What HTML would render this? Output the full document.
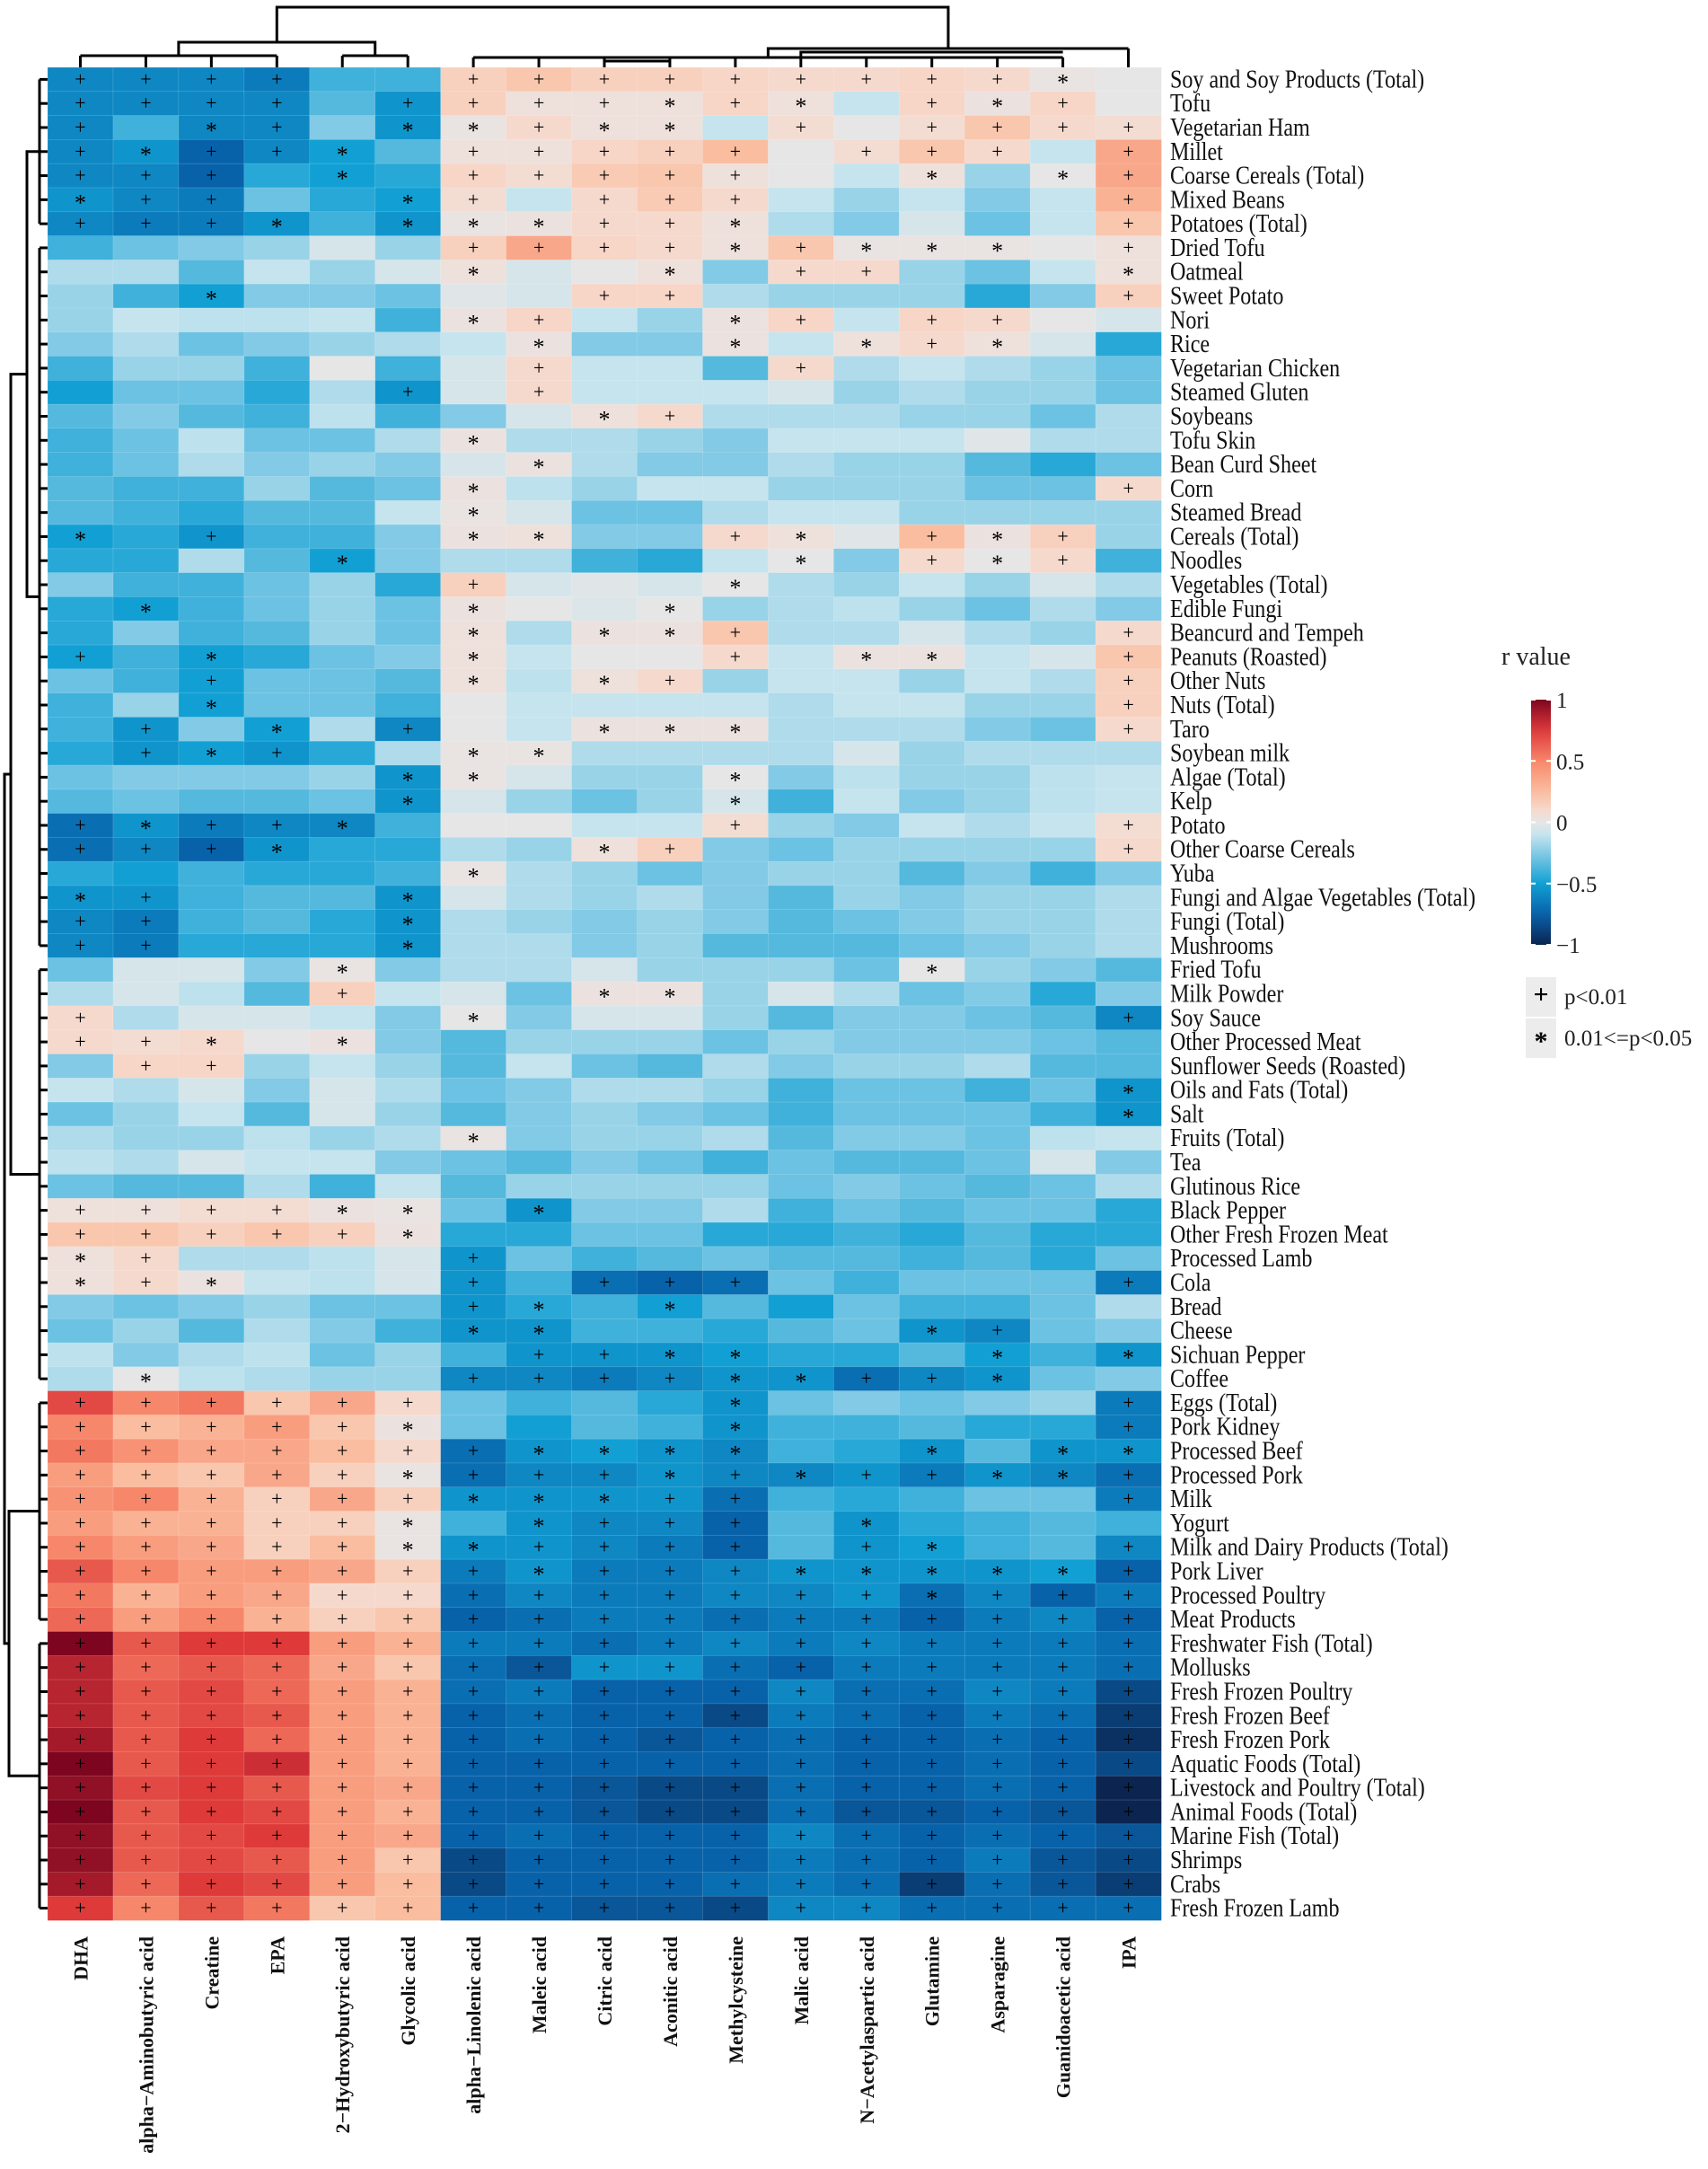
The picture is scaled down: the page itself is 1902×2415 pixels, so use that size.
<!DOCTYPE html>
<html><head><meta charset="utf-8">
<style>
html,body{margin:0;padding:0;background:#fff;}
svg{display:block;}
text{font-family:"Liberation Serif",serif;}
</style></head>
<body>
<svg id="chart" width="1902" height="2415" viewBox="0 0 1902 2415" xmlns="http://www.w3.org/2000/svg">
<g id="dendro" stroke="#000" stroke-width="3" fill="none"></g>
<g id="cells"></g>
<g id="marks"></g>
<g id="rowlabels" transform="scale(0.86,1)"></g>
<g id="collabels"></g>
<g id="legend"></g>
</svg>
<script>
const columns=["DHA","alpha\u2212Aminobutyric acid","Creatine","EPA","2\u2212Hydroxybutyric acid","Glycolic acid","alpha\u2212Linolenic acid","Maleic acid","Citric acid","Aconitic acid","Methylcysteine","Malic acid","N\u2212Acetylaspartic acid","Glutamine","Asparagine","Guanidoacetic acid","IPA"];
const rows=["Soy and Soy Products (Total)","Tofu","Vegetarian Ham","Millet","Coarse Cereals (Total)","Mixed Beans","Potatoes (Total)","Dried Tofu","Oatmeal","Sweet Potato","Nori","Rice","Vegetarian Chicken","Steamed Gluten","Soybeans","Tofu Skin","Bean Curd Sheet","Corn","Steamed Bread","Cereals (Total)","Noodles","Vegetables (Total)","Edible Fungi","Beancurd and Tempeh","Peanuts (Roasted)","Other Nuts","Nuts (Total)","Taro","Soybean milk","Algae (Total)","Kelp","Potato","Other Coarse Cereals","Yuba","Fungi and Algae Vegetables (Total)","Fungi (Total)","Mushrooms","Fried Tofu","Milk Powder","Soy Sauce","Other Processed Meat","Sunflower Seeds (Roasted)","Oils and Fats (Total)","Salt","Fruits (Total)","Tea","Glutinous Rice","Black Pepper","Other Fresh Frozen Meat","Processed Lamb","Cola","Bread","Cheese","Sichuan Pepper","Coffee","Eggs (Total)","Pork Kidney","Processed Beef","Processed Pork","Milk","Yogurt","Milk and Dairy Products (Total)","Pork Liver","Processed Poultry","Meat Products","Freshwater Fish (Total)","Mollusks","Fresh Frozen Poultry","Fresh Frozen Beef","Fresh Frozen Pork","Aquatic Foods (Total)","Livestock and Poultry (Total)","Animal Foods (Total)","Marine Fish (Total)","Shrimps","Crabs","Fresh Frozen Lamb"];
const rValues=[
[-0.6,-0.6,-0.6,-0.65,-0.4,-0.4,0.15,0.2,0.15,0.15,0.12,0.1,0.1,0.12,0.1,0.02,0.0],
[-0.6,-0.6,-0.6,-0.6,-0.35,-0.55,0.15,0.05,0.05,0.05,0.12,0.05,-0.1,0.12,0.03,0.12,0.0],
[-0.6,-0.4,-0.6,-0.6,-0.25,-0.55,0.02,0.1,0.05,0.05,-0.1,0.08,0.0,0.08,0.2,0.1,0.08],
[-0.6,-0.55,-0.75,-0.6,-0.5,-0.35,0.05,0.05,0.12,0.15,0.25,0.0,0.08,0.2,0.1,-0.1,0.35],
[-0.6,-0.6,-0.75,-0.45,-0.5,-0.45,0.12,0.08,0.18,0.2,0.05,0.0,-0.1,0.05,-0.2,0.0,0.35],
[-0.55,-0.6,-0.65,-0.3,-0.45,-0.5,0.08,-0.1,0.1,0.18,0.1,-0.1,-0.2,-0.1,-0.25,-0.1,0.3],
[-0.6,-0.65,-0.65,-0.55,-0.4,-0.55,0.02,0.03,0.1,0.1,0.05,-0.15,-0.25,-0.05,-0.3,-0.1,0.2],
[-0.4,-0.3,-0.25,-0.2,-0.05,-0.2,0.15,0.35,0.12,0.1,0.05,0.2,0.02,0.02,0.02,0.0,0.05],
[-0.15,-0.15,-0.35,-0.1,-0.2,-0.05,0.05,-0.05,0.0,0.05,-0.25,0.1,0.1,-0.2,-0.3,-0.1,0.05],
[-0.2,-0.4,-0.5,-0.25,-0.25,-0.3,-0.02,-0.05,0.12,0.12,-0.15,-0.2,-0.2,-0.2,-0.45,-0.25,0.15],
[-0.2,-0.1,-0.12,-0.12,-0.1,-0.4,0.03,0.12,-0.1,-0.2,0.03,0.12,-0.1,0.12,0.1,0.0,-0.05],
[-0.25,-0.15,-0.3,-0.25,-0.2,-0.15,-0.1,0.03,-0.25,-0.25,0.03,-0.1,0.05,0.1,0.05,-0.05,-0.45],
[-0.4,-0.2,-0.2,-0.4,0.0,-0.4,-0.05,0.1,-0.1,-0.1,-0.35,0.1,-0.15,-0.1,-0.15,-0.2,-0.3],
[-0.5,-0.3,-0.3,-0.45,-0.15,-0.55,-0.05,0.1,-0.1,-0.1,-0.1,-0.05,-0.2,-0.15,-0.2,-0.2,-0.3],
[-0.35,-0.25,-0.35,-0.4,-0.12,-0.4,-0.25,-0.05,0.05,0.1,-0.15,-0.15,-0.15,-0.2,-0.2,-0.3,-0.15],
[-0.4,-0.3,-0.12,-0.3,-0.3,-0.15,0.03,-0.15,-0.15,-0.2,-0.25,-0.1,-0.1,-0.1,-0.02,-0.15,-0.15],
[-0.4,-0.3,-0.15,-0.25,-0.2,-0.25,-0.05,0.03,-0.15,-0.25,-0.25,-0.15,-0.2,-0.2,-0.35,-0.45,-0.3],
[-0.35,-0.4,-0.4,-0.2,-0.35,-0.3,0.03,-0.12,-0.2,-0.1,-0.1,-0.2,-0.2,-0.2,-0.3,-0.3,0.1],
[-0.35,-0.4,-0.45,-0.35,-0.35,-0.1,0.02,-0.05,-0.3,-0.3,-0.15,-0.1,-0.1,-0.2,-0.2,-0.2,-0.2],
[-0.5,-0.45,-0.55,-0.4,-0.4,-0.25,0.03,0.05,-0.25,-0.25,0.1,0.05,-0.02,0.25,0.03,0.15,-0.2],
[-0.45,-0.45,-0.15,-0.35,-0.5,-0.25,-0.15,-0.15,-0.4,-0.45,-0.1,0.0,-0.25,0.1,0.0,0.1,-0.4],
[-0.25,-0.4,-0.4,-0.3,-0.2,-0.45,0.15,-0.05,-0.02,-0.05,0.0,-0.15,-0.2,-0.1,-0.2,-0.05,-0.15],
[-0.45,-0.5,-0.4,-0.3,-0.2,-0.3,0.03,0.0,-0.03,0.0,-0.2,-0.15,-0.12,-0.2,-0.3,-0.15,-0.25],
[-0.45,-0.25,-0.4,-0.35,-0.2,-0.3,0.05,-0.15,0.03,0.03,0.2,-0.15,-0.15,-0.05,-0.15,-0.2,0.1],
[-0.5,-0.4,-0.5,-0.45,-0.3,-0.25,0.05,-0.1,0.0,0.0,0.1,-0.1,0.03,0.03,-0.1,-0.05,0.2],
[-0.3,-0.4,-0.5,-0.3,-0.3,-0.35,0.05,-0.12,0.05,0.1,-0.2,-0.1,-0.1,-0.2,-0.1,-0.15,0.15],
[-0.4,-0.2,-0.5,-0.3,-0.3,-0.4,0.0,-0.1,-0.1,-0.1,-0.1,-0.15,-0.1,-0.1,-0.2,-0.2,0.15],
[-0.4,-0.55,-0.25,-0.5,-0.15,-0.6,0.0,-0.1,0.03,0.03,0.03,-0.15,-0.15,-0.15,-0.25,-0.3,0.1],
[-0.45,-0.55,-0.5,-0.55,-0.45,-0.15,0.02,0.02,-0.15,-0.15,-0.15,-0.15,-0.05,-0.2,-0.15,-0.15,-0.15],
[-0.3,-0.25,-0.25,-0.25,-0.2,-0.55,0.02,-0.05,-0.2,-0.2,0.0,-0.25,-0.12,-0.2,-0.2,-0.12,-0.1],
[-0.35,-0.3,-0.35,-0.35,-0.3,-0.55,-0.05,-0.2,-0.3,-0.2,-0.05,-0.4,-0.1,-0.25,-0.2,-0.12,-0.1],
[-0.7,-0.55,-0.65,-0.6,-0.6,-0.4,0.0,0.0,-0.1,-0.1,0.08,-0.2,-0.25,-0.1,-0.15,-0.1,0.08],
[-0.7,-0.6,-0.75,-0.55,-0.45,-0.45,-0.15,-0.2,0.05,0.15,-0.25,-0.3,-0.2,-0.2,-0.2,-0.2,0.1],
[-0.45,-0.5,-0.4,-0.45,-0.45,-0.4,0.02,-0.15,-0.2,-0.3,-0.25,-0.2,-0.2,-0.35,-0.25,-0.4,-0.25],
[-0.55,-0.55,-0.4,-0.35,-0.35,-0.55,-0.05,-0.15,-0.2,-0.15,-0.25,-0.35,-0.2,-0.25,-0.2,-0.2,-0.15],
[-0.6,-0.65,-0.4,-0.35,-0.45,-0.55,-0.15,-0.2,-0.25,-0.2,-0.25,-0.35,-0.3,-0.25,-0.2,-0.2,-0.15],
[-0.6,-0.65,-0.45,-0.45,-0.45,-0.55,-0.15,-0.15,-0.25,-0.2,-0.35,-0.35,-0.35,-0.3,-0.25,-0.2,-0.15],
[-0.3,-0.05,-0.05,-0.25,0.02,-0.25,-0.15,-0.15,-0.05,-0.2,-0.2,-0.2,-0.3,0.0,-0.2,-0.25,-0.35],
[-0.15,-0.05,-0.12,-0.35,0.15,-0.1,-0.05,-0.3,0.03,0.03,-0.2,-0.05,-0.15,-0.3,-0.25,-0.45,-0.25],
[0.1,-0.15,-0.05,-0.05,-0.1,-0.25,0.0,-0.25,-0.05,-0.05,-0.2,-0.35,-0.25,-0.25,-0.3,-0.35,-0.6],
[0.1,0.08,0.1,0.0,0.03,-0.25,-0.35,-0.2,-0.2,-0.2,-0.3,-0.2,-0.25,-0.25,-0.25,-0.3,-0.35],
[-0.25,0.12,0.12,-0.2,-0.1,-0.2,-0.35,-0.1,-0.3,-0.35,-0.15,-0.25,-0.2,-0.2,-0.15,-0.35,-0.35],
[-0.1,-0.15,-0.05,-0.25,-0.05,-0.15,-0.3,-0.25,-0.15,-0.15,-0.2,-0.4,-0.3,-0.3,-0.4,-0.3,-0.55],
[-0.3,-0.2,-0.1,-0.35,-0.05,-0.2,-0.35,-0.25,-0.2,-0.25,-0.3,-0.4,-0.3,-0.3,-0.3,-0.4,-0.55],
[-0.15,-0.2,-0.2,-0.12,-0.2,-0.15,0.02,-0.25,-0.2,-0.2,-0.15,-0.35,-0.25,-0.25,-0.3,-0.12,-0.1],
[-0.12,-0.15,-0.05,-0.1,-0.1,-0.25,-0.3,-0.35,-0.25,-0.3,-0.4,-0.3,-0.35,-0.35,-0.3,-0.05,-0.25],
[-0.3,-0.35,-0.35,-0.15,-0.4,-0.1,-0.35,-0.2,-0.2,-0.2,-0.2,-0.3,-0.25,-0.3,-0.35,-0.3,-0.15],
[0.05,0.05,0.08,0.08,0.03,0.02,-0.3,-0.55,-0.25,-0.25,-0.15,-0.4,-0.3,-0.35,-0.3,-0.3,-0.45],
[0.2,0.2,0.15,0.2,0.15,0.03,-0.45,-0.45,-0.3,-0.3,-0.45,-0.45,-0.4,-0.45,-0.35,-0.45,-0.45],
[0.05,0.1,-0.15,-0.15,-0.12,-0.05,-0.55,-0.3,-0.4,-0.35,-0.3,-0.35,-0.35,-0.4,-0.35,-0.45,-0.3],
[0.05,0.1,0.03,-0.1,-0.12,-0.05,-0.55,-0.4,-0.7,-0.75,-0.7,-0.3,-0.4,-0.3,-0.3,-0.3,-0.65],
[-0.25,-0.3,-0.25,-0.2,-0.3,-0.3,-0.55,-0.45,-0.4,-0.5,-0.35,-0.5,-0.3,-0.4,-0.4,-0.3,-0.15],
[-0.3,-0.2,-0.35,-0.15,-0.25,-0.4,-0.55,-0.55,-0.4,-0.4,-0.45,-0.35,-0.3,-0.55,-0.6,-0.3,-0.25],
[-0.12,-0.25,-0.15,-0.12,-0.3,-0.2,-0.4,-0.55,-0.55,-0.55,-0.5,-0.45,-0.45,-0.35,-0.5,-0.4,-0.55],
[-0.15,0.0,-0.12,-0.15,-0.2,-0.2,-0.6,-0.6,-0.65,-0.6,-0.55,-0.55,-0.7,-0.6,-0.55,-0.3,-0.25],
[0.7,0.5,0.55,0.2,0.35,0.1,-0.3,-0.4,-0.35,-0.45,-0.55,-0.3,-0.25,-0.3,-0.25,-0.2,-0.65],
[0.5,0.25,0.3,0.4,0.2,0.03,-0.3,-0.5,-0.35,-0.4,-0.55,-0.4,-0.4,-0.35,-0.45,-0.45,-0.65],
[0.55,0.45,0.35,0.35,0.25,0.1,-0.7,-0.55,-0.5,-0.55,-0.6,-0.4,-0.45,-0.55,-0.35,-0.55,-0.55],
[0.4,0.25,0.2,0.35,0.15,0.02,-0.7,-0.6,-0.6,-0.55,-0.6,-0.6,-0.55,-0.65,-0.55,-0.6,-0.7],
[0.45,0.5,0.3,0.15,0.35,0.15,-0.55,-0.55,-0.55,-0.55,-0.7,-0.4,-0.45,-0.4,-0.3,-0.3,-0.65],
[0.4,0.3,0.3,0.15,0.15,0.02,-0.4,-0.55,-0.6,-0.6,-0.75,-0.35,-0.55,-0.45,-0.4,-0.35,-0.4],
[0.5,0.4,0.35,0.15,0.25,0.02,-0.55,-0.55,-0.6,-0.65,-0.75,-0.35,-0.55,-0.5,-0.4,-0.35,-0.6],
[0.65,0.5,0.4,0.4,0.35,0.15,-0.65,-0.55,-0.65,-0.65,-0.6,-0.55,-0.55,-0.55,-0.55,-0.5,-0.75],
[0.55,0.3,0.4,0.35,0.1,0.1,-0.7,-0.6,-0.65,-0.65,-0.6,-0.6,-0.55,-0.7,-0.6,-0.75,-0.65],
[0.6,0.4,0.5,0.3,0.15,0.2,-0.75,-0.7,-0.65,-0.65,-0.7,-0.65,-0.65,-0.75,-0.65,-0.6,-0.75],
[1.0,0.65,0.75,0.75,0.4,0.3,-0.65,-0.65,-0.7,-0.65,-0.6,-0.65,-0.6,-0.65,-0.65,-0.65,-0.7],
[0.85,0.6,0.65,0.6,0.35,0.2,-0.7,-0.8,-0.55,-0.55,-0.7,-0.75,-0.65,-0.65,-0.65,-0.65,-0.7],
[0.85,0.65,0.7,0.6,0.4,0.3,-0.7,-0.65,-0.75,-0.75,-0.75,-0.6,-0.7,-0.7,-0.6,-0.65,-0.85],
[0.85,0.65,0.7,0.65,0.4,0.3,-0.75,-0.7,-0.75,-0.75,-0.85,-0.65,-0.7,-0.75,-0.65,-0.7,-0.9],
[0.9,0.65,0.75,0.6,0.4,0.3,-0.75,-0.7,-0.75,-0.8,-0.75,-0.7,-0.75,-0.75,-0.7,-0.75,-0.95],
[1.0,0.65,0.75,0.8,0.4,0.3,-0.75,-0.75,-0.75,-0.75,-0.75,-0.7,-0.75,-0.75,-0.7,-0.75,-0.85],
[0.95,0.7,0.75,0.65,0.4,0.35,-0.75,-0.75,-0.8,-0.85,-0.85,-0.7,-0.75,-0.75,-0.7,-0.75,-1.0],
[1.0,0.65,0.75,0.7,0.4,0.3,-0.75,-0.75,-0.8,-0.85,-0.85,-0.7,-0.8,-0.8,-0.75,-0.8,-1.0],
[0.95,0.65,0.7,0.75,0.4,0.35,-0.75,-0.7,-0.75,-0.75,-0.75,-0.6,-0.7,-0.75,-0.7,-0.75,-0.8],
[0.95,0.65,0.7,0.65,0.4,0.2,-0.85,-0.75,-0.75,-0.75,-0.75,-0.65,-0.7,-0.75,-0.65,-0.8,-0.85],
[0.9,0.6,0.75,0.7,0.4,0.25,-0.85,-0.75,-0.75,-0.75,-0.7,-0.65,-0.7,-0.9,-0.7,-0.8,-0.9],
[0.75,0.5,0.65,0.55,0.2,0.25,-0.75,-0.75,-0.8,-0.8,-0.85,-0.6,-0.6,-0.7,-0.7,-0.7,-0.7]
];
const sigMarks=[
"++++..+++++++++*.","++++.++++*+*.+*+.","+.*+.**+**.+.++++","+*++*.+++++.+++.+","+++.*.+++++..*.*+",
"*++..*+.+++.....+","+++*.***++*.....+","......++++*+***.+","......*..*.++...*","..*.....++......+",
"......*+..*+.++..",".......*..*.*+*..",".......+...+.....",".....+.+.........","........*+.......",
"......*..........",".......*.........","......*.........+","......*..........","*.+...**..+*.+*+.",
"....*......*.+*+.","......+...*......",".*....*..*.......","......*.**+.....+","+.*...*...+.**..+",
"..+...*.*+......+","..*.............+",".+.*.+..***.....+",".+*+..**.........",".....**...*......",
".....*....*......","+*++*.....+.....+","+++*....*+......+","......*..........","*+...*...........",
"++...*...........","++...*...........","....*........*...","....+...**.......","+.....*.........+",
"++*.*............",".++..............","................*","................*","......*..........",
".................",".................","++++**.*.........","+++++*...........","*+....+..........",
"*+*...+.+++.....+","......+*.*.......","......**.....*+..",".......++**...*.*",".*....++++**++*..",
"++++++....*.....+","+++++*....*.....+","+++++++****..*.**","+++++*+++*+*++**+","++++++***++.....+",
"+++++*.*+++.*....","+++++**++++.+*..+","+++++++*+++*****+","+++++++++++++*+++","+++++++++++++++++",
"+++++++++++++++++","+++++++++++++++++","+++++++++++++++++","+++++++++++++++++","+++++++++++++++++",
"+++++++++++++++++","+++++++++++++++++","+++++++++++++++++","+++++++++++++++++","+++++++++++++++++",
"+++++++++++++++++","+++++++++++++++++"
];
const legendTicks=[1,0.5,0,-0.5,-1];
const legendTickLabels=["1","0.5","0","\u22120.5","\u22121"];

const NS="http://www.w3.org/2000/svg";
const X0=53,X1=1293,Y0=75,Y1=2138;
const cw=(X1-X0)/columns.length, rh=(Y1-Y0)/rows.length;
function xScale(i){return X0+i*cw;}
function yScale(j){return Y0+j*rh;}
const stops=[[-1,[11,37,80]],[-0.75,[8,98,170]],[-0.5,[18,160,212]],[-0.25,[130,202,229]],[-0.1,[198,228,238]],[0,[230,230,230]],[0.1,[246,217,205]],[0.25,[251,189,159]],[0.5,[247,135,106]],[0.75,[222,58,58]],[1,[125,5,32]]];
function color(v){
  v=Math.max(-1,Math.min(1,v));
  for(let k=0;k<stops.length-1;k++){
    const a=stops[k],b=stops[k+1];
    if(v>=a[0]&&v<=b[0]){const t=(v-a[0])/(b[0]-a[0]);
      const c=a[1].map((x,i)=>Math.round(x+(b[1][i]-x)*t));return `rgb(${c[0]},${c[1]},${c[2]})`;}
  }
  return "#ccc";
}
function mk(tag,attrs,parent){const e=document.createElementNS(NS,tag);for(const k in attrs)e.setAttribute(k,attrs[k]);parent.appendChild(e);return e;}

const gC=document.getElementById('cells'),gM=document.getElementById('marks');
rValues.forEach((row,j)=>{
  row.forEach((v,i)=>{
    const r=mk('rect',{x:xScale(i),y:yScale(j),width:cw+0.4,height:rh+0.4,fill:color(v),stroke:"rgba(255,255,255,0.25)","stroke-width":0.6},gC);
    
    
    const m=(sigMarks[j]||"")[i];
    if(m==='+'||m==='*'){
      const t=mk('text',{x:xScale(i)+cw/2,y:yScale(j)+rh/2+(m==='+'?7:12),"text-anchor":"middle","font-size":m==='+'?22:26,fill:"#000"},gM);
      t.textContent=m;
      
      
    }
  });
});
const gR=document.getElementById('rowlabels');
rows.forEach((n,j)=>{
  const t=mk('text',{x:1303/0.86,y:yScale(j)+rh/2+9,"font-size":28,fill:"#111"},gR);
  t.textContent=n;
  
  
});
const gL=document.getElementById('collabels');
columns.forEach((n,i)=>{
  const cx=xScale(i)+cw/2+8,cy=2156;
  const t=mk('text',{x:cx,y:cy,transform:`rotate(-90 ${cx} ${cy})`,"text-anchor":"end","font-size":22,"font-weight":"bold",fill:"#111"},gL);
  t.textContent=n;
  
  
});
const gLeg=document.getElementById('legend');
const title=mk('text',{x:1672,y:740,"font-size":28,fill:"#222"},gLeg);title.textContent="r value";


const defs=mk('defs',{},gLeg);
const lg=mk('linearGradient',{id:'cb',x1:0,y1:0,x2:0,y2:1},defs);
for(let k=0;k<=20;k++){const v=1-k/10;mk('stop',{offset:(k/20),"stop-color":color(v)},lg);}
const CB0=779,CB1=1052;
function cbY(v){return CB0+(1-v)/2*(CB1-CB0);}
const bar=mk('rect',{x:1705,y:CB0,width:22,height:CB1-CB0,fill:"url(#cb)"},gLeg);


legendTicks.forEach((v,k)=>{
  mk('line',{x1:1705,x2:1710,y1:cbY(v),y2:cbY(v),stroke:"#fff","stroke-width":2},gLeg);
  mk('line',{x1:1722,x2:1727,y1:cbY(v),y2:cbY(v),stroke:"#fff","stroke-width":2},gLeg);
  const t=mk('text',{x:1733,y:cbY(v)+9,"font-size":25,fill:"#222"},gLeg);t.textContent=legendTickLabels[k];
  
  
});
[["+","p<0.01",1088,7],["*","0.01<=p<0.05",1134,13]].forEach(([s,l,y,dy])=>{
  const b=mk('rect',{x:1699,y:y,width:34,height:44,fill:"#ececec"},gLeg);
  
  
  const sm=mk('text',{x:1716,y:y+22+dy,"text-anchor":"middle","font-size":30,"font-weight":"bold",fill:"#000"},gLeg);sm.textContent=s;
  const tx=mk('text',{x:1742,y:y+30,"font-size":25,fill:"#222"},gLeg);tx.textContent=l;
  
  
});
const gD=document.getElementById('dendro');
function P(d){mk('path',{d:d},gD);}
const cx=i=>xScale(i)+cw/2;
for(let i=0;i<17;i++)P(`M${cx(i)} ${Y0} V${i<6?62:(i==16?54:64)}`);
P(`M${cx(0)} 62 H${cx(3)}`);P(`M${cx(4)} 62 H${cx(5)}`);
P(`M${(cx(0)+cx(3))/2} 62 V47 H${(cx(4)+cx(5))/2} V62`);
P(`M${cx(6)} 64 H${cx(15)}`);P(`M${cx(8)} 68 H${cx(9)}`);P(`M${cx(11)} 64 V58 H${cx(15)}`);
const lm=((cx(0)+cx(3))/2+(cx(4)+cx(5))/2)/2;
const rm=(cx(6)+cx(15))/2;
P(`M${rm} 64 V54 H${cx(16)}`);
const rtop=(rm+cx(16))/2;
P(`M${lm} 47 V8 H${rtop} V54`);
function RY(j){return yScale(j)+rh/2;}
const groups=[[0,6],[7,36],[37,54],[55,64],[65,76]];
groups.forEach(([a,b])=>{for(let j=a;j<=b;j++)P(`M${X0} ${RY(j)} H44`);P(`M44 ${RY(a)} V${RY(b)}`);});
P(`M44 ${(RY(0)+RY(6))/2} H30 V${(RY(7)+RY(36))/2} H44`);
P(`M44 ${(RY(37)+RY(54))/2} H36`);
P(`M44 ${(RY(55)+RY(64))/2} H10 V${(RY(65)+RY(76))/2} H44`);
P(`M30 ${((RY(0)+RY(6))/2+(RY(7)+RY(36))/2)/2} H12 V${(RY(37)+RY(54))/2} H36`);
P(`M12 ${(((RY(0)+RY(6))/2+(RY(7)+RY(36))/2)/2+(RY(37)+RY(54))/2)/2} H5 V${((RY(55)+RY(64))/2+(RY(65)+RY(76))/2)/2} H10`);
</script>
</body></html>
